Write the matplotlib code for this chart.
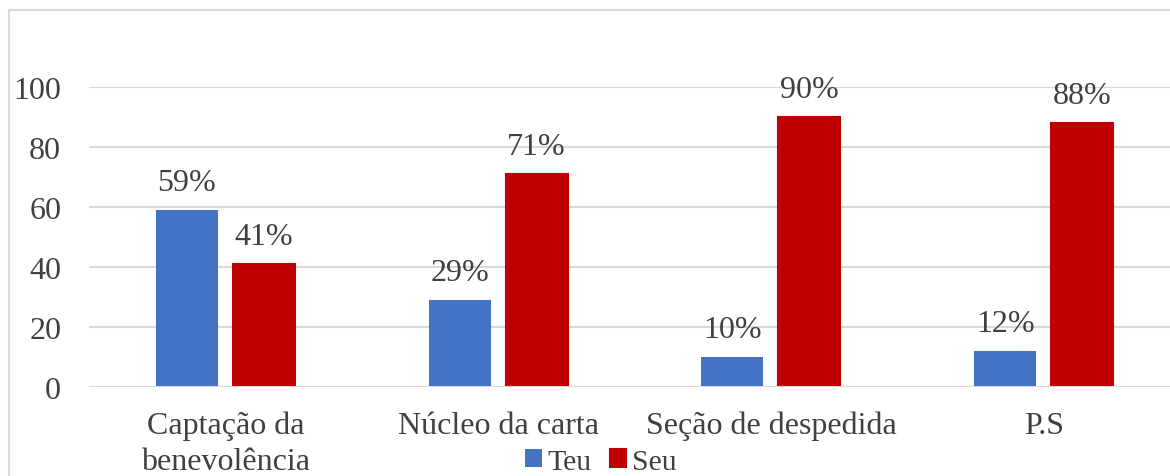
import matplotlib
matplotlib.use("Agg")
import matplotlib.pyplot as plt
from matplotlib.lines import Line2D
import numpy as np

categories = ["Captação da\nbenevolência", "Núcleo da carta", "Seção de despedida", "P.S"]
teu = [59, 29, 10, 12]
seu = [41, 71, 90, 88]
series_names = ["Teu", "Seu"]
y_ticks = [0, 20, 40, 60, 80, 100]

BLUE = "#4472C4"
RED = "#C00000"
GRID = "#D9D9D9"
TEXT = "#404040"

plt.rcParams["font.family"] = ["Liberation Serif", "DejaVu Serif"]

fig = plt.figure(figsize=(11.70, 4.77), dpi=100)
ax = fig.add_axes([89 / 1170, 89 / 477, 1091 / 1170, 300 / 477])

x = np.arange(len(categories))
width = 0.227
offset = 0.141

bars_teu = ax.bar(x - offset, teu, width, color=BLUE, label=series_names[0], zorder=2)
bars_seu = ax.bar(x + offset, seu, width, color=RED, edgecolor=RED, linewidth=1.5,
                  label=series_names[1], zorder=2)

for bars, vals in ((bars_teu, teu), (bars_seu, seu)):
    for b, v in zip(bars, vals):
        ax.annotate(f"{v}%", (b.get_x() + b.get_width() / 2, v),
                    xytext=(0, 19.5), textcoords="offset points",
                    ha="center", va="center", fontsize=23, color=TEXT,
                    annotation_clip=False)

ax.set_ylim(0, 100)
ax.set_xlim(-0.5, len(categories) - 0.5)
ax.set_yticks(y_ticks)
ax.set_xticks(x)
ax.set_xticklabels(categories, linespacing=1.3)
ax.tick_params(axis="both", length=0, labelsize=23, labelcolor=TEXT)
ax.tick_params(axis="y", pad=20)
ax.tick_params(axis="x", pad=17)

ax.yaxis.grid(True, color=GRID, linewidth=1.5, zorder=0)
ax.set_axisbelow(True)
ax.axhline(0, color=GRID, linewidth=1.5, zorder=3)
for s in ax.spines.values():
    s.set_visible(False)

leg = fig.legend(loc="center", bbox_to_anchor=(601 / 1170, 1 - 463 / 477), ncol=2,
                 frameon=False, fontsize=21.5, handlelength=0.55, handleheight=0.55,
                 handletextpad=0.2, columnspacing=0.6, borderpad=0)
for t in leg.get_texts():
    t.set_color(TEXT)

# chart area border (top and left edges)
fig.add_artist(Line2D([9 / 1170, 9 / 1170], [0, 1 - 11 / 477], transform=fig.transFigure,
                      color=GRID, linewidth=1.5))
fig.add_artist(Line2D([9 / 1170, 1], [1 - 11 / 477, 1 - 11 / 477], transform=fig.transFigure,
                      color=GRID, linewidth=1.5))

fig.savefig("out.png", dpi=100, facecolor="white")
